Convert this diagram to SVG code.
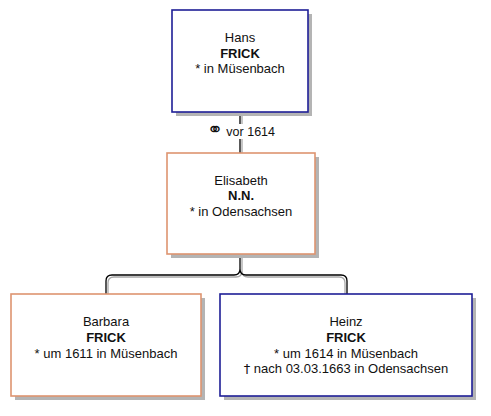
<svg xmlns="http://www.w3.org/2000/svg" width="491" height="416" viewBox="0 0 491 416">
<style>
text{font-family:"Liberation Sans",Arial,"DejaVu Sans",sans-serif;font-size:13px;fill:#111;text-anchor:middle}
.b{font-weight:bold}
.sy{font-family:"DejaVu Sans",sans-serif;fill:#111}
.sh{fill:#b4b4b4}
.m{stroke:#1e1e96;stroke-width:1.6;fill:#fff}
.f{stroke:#de9470;stroke-width:1.6;fill:#fff}
.k{fill:none;stroke:#000;stroke-width:1.3}
.g{fill:none;stroke:#a8a8a8;stroke-width:1.3}
</style>
<rect width="491" height="416" fill="#fff"/>
<g id="connectors">
<path class="g" d="M242,112 V153"/>
<path class="k" d="M240,112 V153"/>
<rect x="200" y="124" width="82" height="15" fill="#fff"/>
<text x="241" y="135.5" style="font-size:12.5px"><tspan class="sy" style="font-size:19px">⚭</tspan> vor 1614</text>
<path class="g" d="M242,254 V271 Q242,277 236,277 H114 Q108,277 108,283 V294 M242,271 Q242,277 248,277 H339 Q345,277 345,283 V294"/>
<path class="k" d="M240,254 V269 Q240,275 234,275 H112 Q106,275 106,281 V294 M240,269 Q240,275 246,275 H341 Q347,275 347,281 V294"/>
</g>
<g id="hans">
<rect class="sh" x="176" y="14" width="136" height="102"/>
<rect class="m" x="172" y="10" width="136" height="102"/>
<text x="240" y="42">Hans</text>
<text x="240" y="57.5" class="b">FRICK</text>
<text x="240" y="73">* in Müsenbach</text>
</g>
<g id="elisabeth">
<rect class="sh" x="171" y="157" width="148" height="101"/>
<rect class="f" x="167" y="153" width="148" height="101"/>
<text x="241" y="184.5">Elisabeth</text>
<text x="241" y="200" class="b">N.N.</text>
<text x="241" y="215.5">* in Odensachsen</text>
</g>
<g id="barbara">
<rect class="sh" x="15" y="298" width="190" height="102"/>
<rect class="f" x="11" y="294" width="190" height="102"/>
<text x="106" y="326">Barbara</text>
<text x="106" y="342" class="b">FRICK</text>
<text x="106" y="358">* um 1611 in Müsenbach</text>
</g>
<g id="heinz">
<rect class="sh" x="224" y="298" width="252" height="102"/>
<rect class="m" x="220" y="294" width="252" height="102"/>
<text x="346" y="326">Heinz</text>
<text x="346" y="342" class="b">FRICK</text>
<text x="346" y="358">* um 1614 in Müsenbach</text>
<text x="346" y="373"><tspan class="sy">†</tspan> nach 03.03.1663 in Odensachsen</text>
</g>
</svg>
